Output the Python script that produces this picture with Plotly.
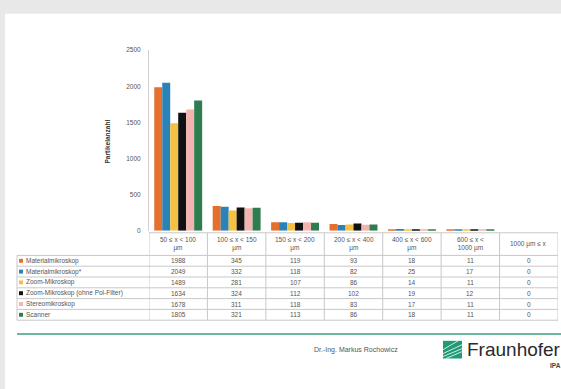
import plotly.graph_objects as go

W, H = 561, 389

categories = ["50 ≤ x < 100<br>µm", "100 ≤ x < 150<br>µm", "150 ≤ x < 200<br>µm",
              "200 ≤ x < 400<br>µm", "400 ≤ x < 600<br>µm", "600 ≤ x <<br>1000 µm",
              "1000 µm ≤ x"]
series_names = ["Materialmikroskop", "Materialmikroskop*", "Zoom-Mikroskop",
                "Zoom-Mikroskop (ohne Pol-Filter)", "Stereomikroskop", "Scanner"]
materialmikroskop = [1988, 345, 119, 93, 18, 11, 0]
materialmikroskop_stern = [2049, 332, 118, 82, 25, 17, 0]
zoom_mikroskop = [1489, 281, 107, 86, 14, 11, 0]
zoom_ohne_pol = [1634, 324, 112, 102, 19, 12, 0]
stereomikroskop = [1678, 311, 118, 83, 17, 11, 0]
scanner = [1805, 321, 113, 86, 18, 11, 0]
y_ticks = [0, 500, 1000, 1500, 2000, 2500]

series_values = [materialmikroskop, materialmikroskop_stern, zoom_mikroskop,
                 zoom_ohne_pol, stereomikroskop, scanner]
colors = ["#E56F2C", "#2B82B9", "#F4C143", "#111111", "#F3B3AE", "#2E7D50"]

FONT = "Liberation Sans, Arial"
TXT = "#555555"
GRID = "#c8c8c8"

def px(x):
    return x / W

def py(y):
    return 1 - y / H

fig = go.Figure()
cat_keys = [c.replace("<br>", " ") for c in categories]
for name, vals, col in zip(series_names, series_values, colors):
    fig.add_trace(go.Bar(x=cat_keys, y=vals, name=name, marker_color=col,
                         marker_line_width=0, showlegend=False))

fig.update_layout(
    width=W, height=H,
    margin=dict(l=0, r=0, t=0, b=0),
    paper_bgcolor="#e8e8e8",
    plot_bgcolor="white",
    barmode="group",
    bargap=0.18,
    bargroupgap=0,
    xaxis=dict(domain=[px(149), px(558)], showticklabels=False, ticks="",
               showgrid=False, zeroline=False, showline=False, fixedrange=True,
               range=[-0.5, len(categories) - 0.5]),
    yaxis=dict(domain=[py(231), py(47)], range=[0, 2500], tickvals=y_ticks,
               showgrid=False, zeroline=False, showline=True, linecolor="#d0d0d0",
               linewidth=1, ticks="", ticklabelstandoff=6,
               tickfont=dict(family=FONT, size=6.5, color=TXT)),
    font=dict(family=FONT),
)

# ---- table geometry (pixels)
header_top, header_bot = 233, 256
row_h = 11
n_rows = len(series_names)
table_bot = header_bot + row_h * n_rows
n_cat = len(categories)

shapes = [
    # white slide
    dict(type="rect", xref="paper", yref="paper", x0=px(5), x1=1.01, y0=-0.01, y1=py(10),
         fillcolor="white", line_width=0, layer="below"),
    # green separator line
    dict(type="line", xref="paper", yref="paper", x0=px(17), x1=1, y0=py(336), y1=py(336),
         line=dict(color="#6DB79C", width=2)),
    # Fraunhofer logo square
    dict(type="rect", xref="paper", yref="paper", x0=px(443), x1=px(462), y0=py(361), y1=py(343),
         fillcolor="#1F9B76", line_width=0),
]
for (x0, y0, x1, y1) in [(443, 356, 462, 347), (443, 359, 462, 351), (446, 361, 462, 354), (443, 352, 458, 343)]:
    shapes.append(dict(type="line", xref="paper", yref="paper", x0=px(x0), y0=py(y0),
                       x1=px(x1), y1=py(y1), line=dict(color="white", width=0.8)))

line_style = dict(color=GRID, width=1)
# header top line (category part)
shapes.append(dict(type="line", xref="x", yref="paper", x0=-0.5, x1=n_cat - 0.5,
                   y0=py(header_top), y1=py(header_top), line=line_style))
# horizontal row lines
for r in range(n_rows + 1):
    yy = header_bot + r * row_h
    shapes.append(dict(type="line", xref="paper", yref="paper", x0=px(17), x1=px(558),
                       y0=py(yy), y1=py(yy), line=line_style))
# vertical lines
shapes.append(dict(type="line", xref="paper", yref="paper", x0=px(17), x1=px(17),
                   y0=py(header_bot), y1=py(table_bot), line=line_style))
for i in range(n_cat + 1):
    shapes.append(dict(type="line", xref="x", yref="paper", x0=i - 0.5, x1=i - 0.5,
                       y0=py(header_top), y1=py(table_bot), line=line_style))

small = dict(family=FONT, size=6.5, color=TXT)
annotations = []
# header labels
for key, lab in zip(cat_keys, categories):
    annotations.append(dict(text=lab, x=key, xref="x", y=py((header_top + header_bot) / 2),
                            yref="paper", xanchor="center", yanchor="middle",
                            showarrow=False, font=small))
# rows
for r, (name, vals, col) in enumerate(zip(series_names, series_values, colors)):
    yc = header_bot + row_h * (r + 0.5)
    shapes.append(dict(type="rect", xref="paper", yref="paper", x0=px(19), x1=px(23),
                       y0=py(yc + 2), y1=py(yc - 2), fillcolor=col, line_width=0))
    annotations.append(dict(text=name, x=px(23.5), y=py(yc), xref="paper", yref="paper",
                            xanchor="left", yanchor="middle", showarrow=False, font=small))
    for key, v in zip(cat_keys, vals):
        annotations.append(dict(text=str(v), x=key, xref="x", y=py(yc), yref="paper",
                                xanchor="center", yanchor="middle",
                                showarrow=False, font=small))

annotations += [
    dict(text="<b>Partikelanzahl</b>", x=px(107), y=py(140), xref="paper", yref="paper",
         xanchor="center", yanchor="middle",
         textangle=-90, showarrow=False, font=dict(family=FONT, size=6.5, color="#333")),
    dict(text="Dr.-Ing. Markus Rochowicz", x=px(400), y=py(352), xref="paper", yref="paper",
         xanchor="right", yanchor="middle", showarrow=False,
         font=dict(family=FONT, size=7, color=TXT)),
    dict(text="Fraunhofer", x=px(465), y=py(352), xref="paper", yref="paper",
         xanchor="left", yanchor="middle", showarrow=False,
         font=dict(family=FONT, size=19, color="#2a2a2a")),
    dict(text="<b>IPA</b>", x=px(548), y=py(368), xref="paper", yref="paper",
         xanchor="left", yanchor="middle", showarrow=False,
         font=dict(family=FONT, size=6.5, color="#444")),
]
fig.update_layout(shapes=shapes, annotations=annotations)

fig.write_html("out.html")
